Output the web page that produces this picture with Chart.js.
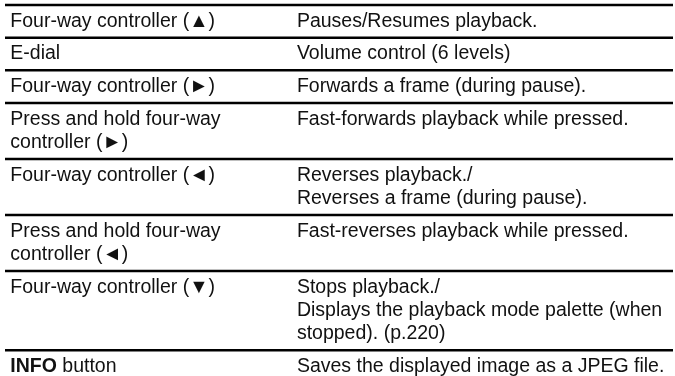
<!DOCTYPE html>
<html>
<head>
<meta charset="utf-8">
<script src="https://cdn.jsdelivr.net/npm/chart.js@4.4.1/dist/chart.umd.min.js"></script>
<style>
  html,body{margin:0;padding:0;background:#fff;}
  #wrap{width:675px;height:376px;position:relative;}
</style>
</head>
<body>
<div id="wrap"><canvas id="table"></canvas></div>
<script>
// table content, one entry per row, each entry = lines of the cell
const controls = [
  ['Four-way controller (▲)'],
  ['E-dial'],
  ['Four-way controller (►)'],
  ['Press and hold four-way', 'controller (►)'],
  ['Four-way controller (◄)'],
  ['Press and hold four-way', 'controller (◄)'],
  ['Four-way controller (▼)'],
  ['**INFO** button']
];
const actions = [
  ['Pauses/Resumes playback.'],
  ['Volume control (6 levels)'],
  ['Forwards a frame (during pause).'],
  ['Fast-forwards playback while pressed.'],
  ['Reverses playback./', 'Reverses a frame (during pause).'],
  ['Fast-reverses playback while pressed.'],
  ['Stops playback./', 'Displays the playback mode palette (when', 'stopped). (p.220)'],
  ['Saves the displayed image as a JPEG file.']
];

// y axis is measured in text lines
const PAD = 0.4;
const rowLines = controls.map((c,i)=>Math.max(c.length, actions[i].length));
const rowTops = [];
let acc = 0;
rowLines.forEach(n=>{ rowTops.push(acc); acc += n + PAD; });

const FONT = "'Liberation Sans', Arial, Helvetica, sans-serif";
const colX = [0.008, 0.437];

const cellText = {
  id:'cellText',
  afterDatasetsDraw(chart){
    const ctx = chart.ctx, xs = chart.scales.x, ys = chart.scales.y;
    ctx.save();
    ctx.fillStyle = '#111';
    ctx.textBaseline = 'alphabetic';
    [controls, actions].forEach((col,c)=>{
      col.forEach((lines,r)=>{
        lines.forEach((line,i)=>{
          const y = ys.getPixelForValue(rowTops[r] + PAD/2 + i + 0.73);
          let x = xs.getPixelForValue(colX[c]);
          line.split('**').forEach((part,k)=>{
            if(!part) return;
            ctx.font = (k%2 ? 'bold ' : '') + '19.5px ' + FONT;
            ctx.fillText(part, x, y);
            x += ctx.measureText(part).width;
          });
        });
      });
    });
    ctx.restore();
  }
};

new Chart(document.getElementById('table'), {
  type:'scatter',
  data:{
    datasets: rowTops.map(t=>({
      data:[{x:0,y:t},{x:1,y:t}],
      showLine:true,
      borderColor:'#000',
      borderWidth:2.5,
      pointRadius:0,
      clip:false
    }))
  },
  options:{
    responsive:true,
    maintainAspectRatio:false,
    animation:false,
    layout:{padding:{left:5,right:2,top:5,bottom:0}},
    plugins:{legend:{display:false},tooltip:{enabled:false}},
    scales:{
      x:{type:'linear',min:0,max:1,display:false},
      y:{type:'linear',min:0,max:15.9,reverse:true,display:false}
    }
  },
  plugins:[cellText]
});
</script>
</body>
</html>
